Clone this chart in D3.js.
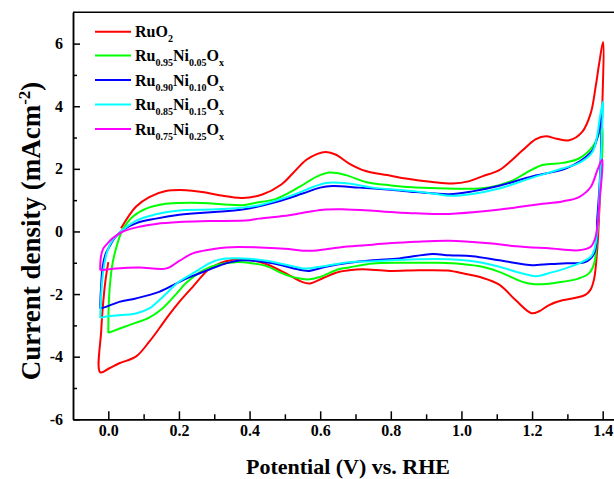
<!DOCTYPE html>
<html>
<head>
<meta charset="utf-8">
<script src="https://cdn.jsdelivr.net/npm/d3@7"></script>
<style>
  body { margin: 0; background: #fff; }
  svg { display: block; }
  .axis path, .axis line { stroke: #000; stroke-width: 1.5; }
  .axis text { font-family: "Liberation Serif", "Times New Roman", serif; font-weight: bold; font-size: 16px; fill: #000; }
  .title { font-family: "Liberation Serif", "Times New Roman", serif; font-weight: bold; fill: #000; }
  .legend text { font-family: "Liberation Serif", "Times New Roman", serif; font-weight: bold; font-size: 16px; fill: #000; }
  .cv { fill: none; stroke-width: 2; stroke-linejoin: round; }
</style>
</head>
<body>
<script>
// series names (legend), _{..} is a subscript
var seriesNames = ["RuO_{2}", "Ru_{0.95}Ni_{0.05}O_{x}", "Ru_{0.90}Ni_{0.10}O_{x}", "Ru_{0.85}Ni_{0.15}O_{x}", "Ru_{0.75}Ni_{0.25}O_{x}"];
var seriesColors = ["#ff0000", "#00ff00", "#0000ff", "#00ffff", "#ff00ff"];

// [potential (V), current density (mA/cm2)], in sweep order
var ruO2 = [
  [0.036,0.10],[0.078,0.79],[0.116,1.10],[0.163,1.29],[0.22,1.32],[0.266,1.26],[0.314,1.16],[0.379,1.07],[0.436,1.18],
  [0.49,1.5],[0.522,1.85],[0.56,2.28],[0.592,2.48],[0.616,2.54],[0.645,2.45],[0.682,2.17],[0.729,1.93],[0.79,1.80],
  [0.843,1.69],[0.918,1.58],[0.975,1.53],[1.02,1.60],[1.059,1.76],[1.107,1.96],[1.14,2.25],[1.173,2.59],[1.211,2.95],
  [1.239,3.04],[1.27,2.96],[1.305,2.91],[1.342,3.18],[1.366,3.77],[1.38,4.62],[1.39,5.36],[1.401,6.05],
  [1.397,3.23],[1.392,1.1],[1.385,-0.49],[1.376,-1.5],[1.366,-1.85],[1.352,-2.02],[1.324,-2.12],[1.286,-2.2],
  [1.248,-2.35],[1.22,-2.55],[1.198,-2.61],[1.154,-2.2],[1.107,-1.7],[1.059,-1.48],[1.012,-1.36],[0.96,-1.25],[0.88,-1.24],
  [0.795,-1.26],[0.72,-1.21],[0.682,-1.24],[0.654,-1.29],[0.61,-1.48],[0.572,-1.66],[0.55,-1.62],[0.503,-1.34],
  [0.456,-1.08],[0.427,-0.97],[0.38,-0.89],[0.333,-0.95],[0.286,-1.2],[0.239,-1.77],[0.201,-2.25],[0.173,-2.65],
  [0.144,-3.1],[0.116,-3.52],[0.078,-4.0],[0.031,-4.21],[0.003,-4.37],[-0.023,-4.50],
  [-0.02,-3.16],[-0.014,-2.2],[-0.008,-1.56],[0.0,-0.98]
];
var ru95 = [
  [0.0,-3.24],[0.001,-2.41],[0.005,-1.66],[0.012,-1.02],[0.026,-0.38],[0.04,0.04],[0.069,0.47],[0.107,0.73],[0.154,0.87],
  [0.201,0.91],[0.267,0.91],[0.33,0.86],[0.38,0.84],[0.418,0.92],[0.475,1.04],[0.541,1.42],[0.59,1.75],[0.626,1.88],
  [0.673,1.80],[0.729,1.58],[0.8,1.47],[0.871,1.40],[0.96,1.37],[1.059,1.38],[1.107,1.48],[1.144,1.62],[1.18,1.85],
  [1.229,2.12],[1.286,2.19],[1.333,2.33],[1.371,2.70],[1.39,3.13],[1.399,3.34],
  [1.385,0.04],[1.376,-1.02],[1.361,-1.34],[1.333,-1.50],[1.286,-1.61],[1.239,-1.68],[1.201,-1.68],[1.173,-1.61],
  [1.107,-1.29],[1.059,-1.13],[1.0,-1.04],[0.937,-1.0],[0.85,-1.0],[0.748,-1.02],[0.682,-1.15],[0.654,-1.2],[0.6,-1.45],
  [0.569,-1.53],[0.52,-1.45],[0.493,-1.34],[0.446,-1.1],[0.41,-1.02],[0.361,-0.98],[0.314,-1.05],[0.267,-1.25],
  [0.22,-1.65],[0.192,-2.0],[0.154,-2.45],[0.116,-2.75],[0.059,-2.99],[0.0,-3.24]
];
var ru90 = [
  [-0.023,-2.46],[-0.021,-1.87],[-0.016,-1.13],[-0.007,-0.70],[0.003,-0.49],[0.017,-0.22],[0.04,0.04],[0.078,0.26],
  [0.135,0.41],[0.201,0.53],[0.239,0.57],[0.30,0.62],[0.38,0.70],[0.475,0.94],[0.55,1.21],[0.6,1.40],[0.635,1.45],
  [0.71,1.40],[0.8,1.33],[0.871,1.26],[0.965,1.19],[1.031,1.28],[1.107,1.46],[1.2,1.76],[1.239,1.85],[1.295,2.01],
  [1.333,2.22],[1.371,2.59],[1.39,3.23],[1.399,3.98],
  [1.397,3.23],[1.392,1.64],[1.385,0.47],[1.376,-0.70],[1.352,-0.97],[1.286,-1.02],[1.22,-1.06],[1.201,-1.08],
  [1.107,-0.92],[1.031,-0.79],[0.965,-0.76],[0.918,-0.72],[0.824,-0.86],[0.748,-0.92],[0.682,-1.0],[0.616,-1.13],
  [0.569,-1.26],[0.55,-1.24],[0.456,-1.0],[0.38,-0.92],[0.333,-1.02],[0.286,-1.22],[0.239,-1.42],[0.2,-1.62],
  [0.144,-1.93],[0.078,-2.14],[0.031,-2.25],[-0.007,-2.41],[-0.023,-2.46]
];
var ru85 = [
  [-0.023,-2.76],[-0.018,-1.66],[-0.011,-1.02],[-0.002,-0.6],[0.012,-0.28],[0.04,0.04],[0.078,0.34],[0.135,0.55],
  [0.201,0.67],[0.286,0.70],[0.36,0.74],[0.427,0.84],[0.522,1.16],[0.58,1.42],[0.616,1.55],[0.68,1.53],[0.748,1.40],
  [0.871,1.28],[0.937,1.18],[0.965,1.14],[1.031,1.20],[1.107,1.37],[1.201,1.72],[1.286,2.01],[1.333,2.19],
  [1.371,2.54],[1.394,3.77],[1.401,4.15],
  [1.399,3.5],[1.392,1.5],[1.385,0.04],[1.376,-0.6],[1.366,-0.81],[1.333,-1.02],[1.295,-1.18],[1.258,-1.3],
  [1.211,-1.43],[1.173,-1.34],[1.107,-1.13],[1.059,-1.0],[0.965,-0.89],[0.871,-0.89],[0.748,-0.95],[0.682,-0.98],
  [0.616,-1.1],[0.569,-1.18],[0.55,-1.18],[0.456,-0.95],[0.38,-0.86],[0.314,-0.9],[0.286,-1.02],[0.239,-1.34],
  [0.201,-1.60],[0.154,-2.09],[0.116,-2.46],[0.078,-2.62],[0.003,-2.70],[-0.023,-2.76]
];
var ru75 = [
  [-0.023,-1.24],[-0.021,-0.81],[-0.014,-0.54],[-0.002,-0.38],[0.012,-0.22],[0.04,-0.01],[0.088,0.15],[0.135,0.24],
  [0.201,0.30],[0.286,0.33],[0.399,0.36],[0.427,0.41],[0.512,0.52],[0.569,0.63],[0.616,0.70],[0.663,0.71],[0.776,0.64],
  [0.871,0.58],[0.965,0.56],[1.078,0.66],[1.15,0.76],[1.22,0.87],[1.286,0.96],[1.333,1.10],[1.366,1.42],[1.385,1.96],
  [1.399,2.3],
  [1.392,1.10],[1.38,-0.17],[1.366,-0.49],[1.333,-0.60],[1.248,-0.54],[1.154,-0.47],[1.078,-0.38],[0.965,-0.30],
  [0.871,-0.33],[0.795,-0.38],[0.729,-0.44],[0.654,-0.51],[0.569,-0.62],[0.5,-0.55],[0.427,-0.51],[0.333,-0.51],
  [0.267,-0.62],[0.239,-0.70],[0.201,-0.94],[0.165,-1.18],[0.088,-1.15],[0.022,-1.18],[-0.023,-1.24]
];
var seriesData = [ruO2, ru95, ru90, ru85, ru75];

// ticks
var xMajor = [0, 0.2, 0.4, 0.6, 0.8, 1.0, 1.2, 1.4];
var xMinor = [0.1, 0.3, 0.5, 0.7, 0.9, 1.1, 1.3];
var yMajor = [-6, -4, -2, 0, 2, 4, 6];
var yMinor = [-5, -3, -1, 1, 3, 5];

var width = 614, height = 479;
var svg = d3.select("body").append("svg")
    .attr("width", width)
    .attr("height", height);

var xScale = d3.scaleLinear().domain([-0.1, 1.5]).range([73, 638]);
var yScale = d3.scaleLinear().domain([-6, 7]).range([419.3, 12.3]);

// 枠線 (top)
svg.append("line")
    .attr("x1", xScale(-0.1)).attr("x2", xScale(1.5))
    .attr("y1", yScale(7)).attr("y2", yScale(7))
    .attr("stroke", "#000").attr("stroke-width", 1.5);

// X axis
svg.append("g").attr("class", "axis")
    .attr("transform", "translate(0," + yScale(-6) + ")")
    .call(d3.axisBottom(xScale).tickValues(xMajor).tickSize(-8).tickSizeOuter(0).tickPadding(5)
      .tickFormat(function(d) { return d.toFixed(1); }));
svg.append("g").attr("class", "axis")
    .attr("transform", "translate(0," + yScale(-6) + ")")
    .call(d3.axisBottom(xScale).tickValues(xMinor).tickSize(-5).tickSizeOuter(0).tickFormat(""));

// Y axis
svg.append("g").attr("class", "axis")
    .attr("transform", "translate(" + xScale(-0.1) + ",0)")
    .call(d3.axisLeft(yScale).tickValues(yMajor).tickSize(-7).tickSizeOuter(0).tickPadding(10)
      .tickFormat(function(d) { return String(d); }));
svg.append("g").attr("class", "axis")
    .attr("transform", "translate(" + xScale(-0.1) + ",0)")
    .call(d3.axisLeft(yScale).tickValues(yMinor).tickSize(-4).tickSizeOuter(0).tickFormat(""));

// axis titles
svg.append("text").attr("class", "title")
    .attr("x", 348).attr("y", 474)
    .attr("text-anchor", "middle")
    .style("font-size", "22px")
    .text("Potential (V) vs. RHE");

var yTitle = svg.append("text").attr("class", "title")
    .attr("transform", "translate(40,231) rotate(-90)")
    .attr("text-anchor", "middle")
    .style("font-size", "27px");
yTitle.append("tspan").text("Current density (mAcm");
yTitle.append("tspan").attr("dy", -10).style("font-size", "17px").text("-2");
yTitle.append("tspan").attr("dy", 10).text(")");

// CV curves
var line = d3.line()
    .x(function(d) { return xScale(d[0]); })
    .y(function(d) { return yScale(d[1]); })
    .curve(d3.curveCatmullRom.alpha(0.5));

seriesData.forEach(function(data, i) {
  svg.append("path")
      .attr("class", "cv")
      .attr("stroke", seriesColors[i])
      .attr("d", line(data));
});

// legend
var legend = svg.append("g").attr("class", "legend");
var legendY = [31.7, 55.5, 80, 104.5, 129];
seriesNames.forEach(function(name, i) {
  legend.append("line")
      .attr("x1", 95).attr("x2", 131)
      .attr("y1", legendY[i]).attr("y2", legendY[i])
      .attr("stroke", seriesColors[i]).attr("stroke-width", 2);

  var t = legend.append("text").attr("x", 135).attr("y", legendY[i] + 5.5);
  var parts = name.split(/_\{([^}]*)\}/);
  var shift = 0;
  parts.forEach(function(p, j) {
    if (p === "") return;
    var sub = (j % 2 === 1);
    var target = sub ? 5 : 0;
    t.append("tspan")
        .attr("dy", target - shift)
        .style("font-size", sub ? "10px" : "16px")
        .text(p);
    shift = target;
  });
});
</script>
</body>
</html>
